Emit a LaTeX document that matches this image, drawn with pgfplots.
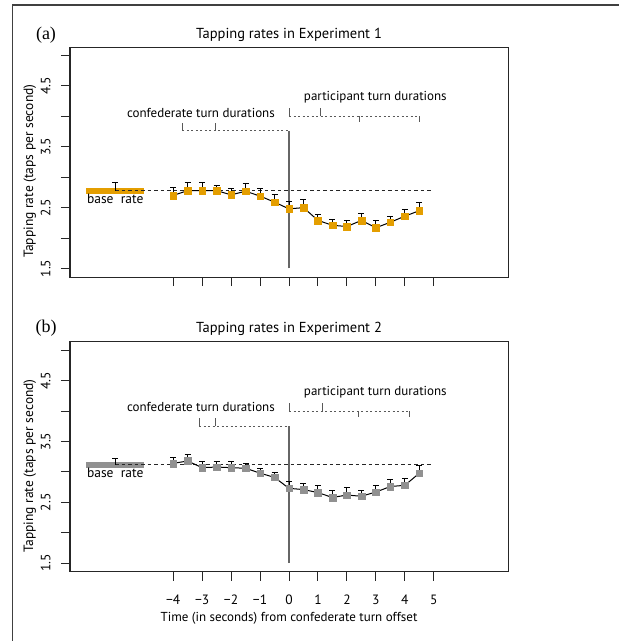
\documentclass[border=0pt]{standalone}
\usepackage{pgfplots}
\pgfplotsset{compat=1.18}
\usepackage{pgfplotstable}
\usepackage{fontspec}
\setmainfont{PT Sans}
\newfontfamily\seriffont{Liberation Serif}
\definecolor{myorange}{RGB}{228,158,0}
\definecolor{mygray}{RGB}{145,145,145}

\pgfplotstableread{
x y e
-4 2.70 0.13
-3.5 2.78 0.13
-3 2.78 0.13
-2.5 2.78 0.09
-2 2.71 0.11
-1.5 2.77 0.12
-1 2.69 0.13
-0.5 2.59 0.12
0 2.48 0.12
0.5 2.50 0.13
1 2.29 0.10
1.5 2.21 0.10
2 2.19 0.10
2.5 2.29 0.12
3 2.17 0.12
3.5 2.26 0.10
4 2.36 0.11
4.5 2.45 0.13
}\expA

\pgfplotstableread{
x y e
-4 3.14 0.10
-3.5 3.18 0.10
-3 3.07 0.10
-2.5 3.08 0.09
-2 3.07 0.10
-1.5 3.06 0.08
-1 2.98 0.08
-0.5 2.91 0.08
0 2.73 0.12
0.5 2.71 0.10
1 2.66 0.11
1.5 2.58 0.11
2 2.62 0.13
2.5 2.60 0.10
3 2.67 0.11
3.5 2.76 0.12
4 2.78 0.11
4.5 2.98 0.12
}\expB

\pgfplotsset{
  panel/.style={
    scale only axis, width=438pt, height=230pt,
    xmin=-7.56, xmax=7.56, ymin=1.36, ymax=5.14,
    axis line style={black!85, line width=1pt},
    tick align=outside, major tick length=9pt,
    tick style={black!85, line width=1pt},
    xtick={-4,-3,...,5}, ytick={1.5,2,...,5},
    yticklabels={\rotatebox{90}{1.5},,\rotatebox{90}{2.5},,\rotatebox{90}{3.5},,\rotatebox{90}{4.5},},
    xtick pos=bottom, ytick pos=left,
    yticklabel style={anchor=east, xshift=-7pt, font=\fontsize{13.5}{13}\selectfont},
    xticklabel style={yshift=-11pt, font=\fontsize{13.5}{13}\selectfont},
    ylabel={Tapping rate (taps per second)},
    ylabel style={at={(axis description cs:-0.092,0.46)}, anchor=center, font=\fontsize{13.5}{14}\selectfont},
    title style={at={(axis description cs:0.5,1)}, anchor=base, yshift=3pt, font=\fontsize{14.5}{14}\selectfont},
    clip=false,
  },
  errb/.style={black, line width=1pt, mark=none,
    error bars/.cd, y dir=plus, y explicit,
    error bar style={line width=1pt, black},
    error mark options={rotate=90, mark size=3pt, line width=1pt, black}},
}

\begin{document}
\begin{tikzpicture}
\useasboundingbox (0pt,0pt) rectangle (619pt,-641pt);
\draw[black!75, line width=1.3pt] (12.5pt,-641pt) -- (12.5pt,-5pt) -- (619pt,-5pt);
\node[font=\seriffont\fontsize{18}{18}\selectfont] at (46pt,-35pt) {(a)};
\node[font=\seriffont\fontsize{18}{18}\selectfont] at (46pt,-328pt) {(b)};

% Panel (a)
\begin{axis}[panel, at={(70pt,-277pt)}, anchor=south west,
  xticklabels={}, title={Tapping rates in Experiment 1}]
\addplot[myorange, line width=6pt] coordinates {(-7,2.78) (-5,2.78)};
\addplot[black!85, line width=1pt, dash pattern=on 3.5pt off 3pt] coordinates {(-6,2.78) (4.92,2.78)};
\addplot[errb] coordinates {(-6,2.78) +- (0,0.13)};
\addplot[black!60, line width=1.4pt] coordinates {(0,1.5) (0,3.76)};
\addplot[black!65, line width=1pt, dash pattern=on 2pt off 2.5pt] coordinates {(-3.68,3.76) (0,3.76)};
\addplot[black!65, line width=1pt] coordinates {(-3.68,3.76) (-3.68,3.89)};
\addplot[black!65, line width=1pt] coordinates {(-2.53,3.76) (-2.53,3.89)};
\addplot[black!65, line width=1pt, dash pattern=on 2pt off 2.5pt] coordinates {(0,4.0) (4.49,4.0)};
\addplot[black!65, line width=1pt] coordinates {(0,4.0) (0,4.14)};
\addplot[black!65, line width=1pt] coordinates {(1.09,4.0) (1.09,4.14)};
\addplot[black!65, line width=1pt] coordinates {(2.44,4.0) (2.44,3.9)};
\addplot[black!65, line width=1pt] coordinates {(4.49,4.0) (4.49,3.9)};
\addplot[only marks, mark=square*, mark size=3.3pt, mark options={fill=myorange, draw=myorange}] table[x=x,y=y] {\expA};
\addplot[errb] table[x=x,y=y,y error plus=e] {\expA};
\node[font=\fontsize{13.5}{13}\selectfont] at (axis cs:-6,2.64) {base\ \ rate};
\node[font=\fontsize{13}{13}\selectfont] at (axis cs:-3.04,4.05) {confederate turn durations};
\node[font=\fontsize{13}{13}\selectfont] at (axis cs:2.98,4.31) {participant turn durations};
\end{axis}

% Panel (b)
\begin{axis}[panel, at={(70pt,-571.7pt)}, anchor=south west,
  xticklabels={−4,−3,−2,−1,0,1,2,3,4,5},
  xlabel={Time (in seconds) from confederate turn offset},
  xlabel style={font=\fontsize{13}{13}\selectfont},
  title={Tapping rates in Experiment 2}]
\addplot[mygray, line width=6pt] coordinates {(-7,3.12) (-5,3.12)};
\addplot[black!85, line width=1pt, dash pattern=on 3.5pt off 3pt] coordinates {(-6,3.12) (4.92,3.12)};
\addplot[errb] coordinates {(-6,3.12) +- (0,0.10)};
\addplot[black!60, line width=1.4pt] coordinates {(0,1.5) (0,3.75)};
\addplot[black!65, line width=1pt, dash pattern=on 2pt off 2.5pt] coordinates {(-3.10,3.75) (0,3.75)};
\addplot[black!65, line width=1pt] coordinates {(-3.10,3.75) (-3.10,3.88)};
\addplot[black!65, line width=1pt] coordinates {(-2.53,3.75) (-2.53,3.88)};
\addplot[black!65, line width=1pt, dash pattern=on 2pt off 2.5pt] coordinates {(0,4.0) (4.15,4.0)};
\addplot[black!65, line width=1pt] coordinates {(0,4.0) (0,4.14)};
\addplot[black!65, line width=1pt] coordinates {(1.16,4.0) (1.16,4.14)};
\addplot[black!65, line width=1pt] coordinates {(2.39,4.0) (2.39,3.9)};
\addplot[black!65, line width=1pt] coordinates {(4.15,4.0) (4.15,3.9)};
\addplot[only marks, mark=square*, mark size=3.3pt, mark options={fill=mygray, draw=mygray}] table[x=x,y=y] {\expB};
\addplot[errb] table[x=x,y=y,y error plus=e] {\expB};
\node[font=\fontsize{13.5}{13}\selectfont] at (axis cs:-6,2.98) {base\ \ rate};
\node[font=\fontsize{13}{13}\selectfont] at (axis cs:-3.04,4.06) {confederate turn durations};
\node[font=\fontsize{13}{13}\selectfont] at (axis cs:2.98,4.31) {participant turn durations};
\end{axis}
\end{tikzpicture}
\end{document}
